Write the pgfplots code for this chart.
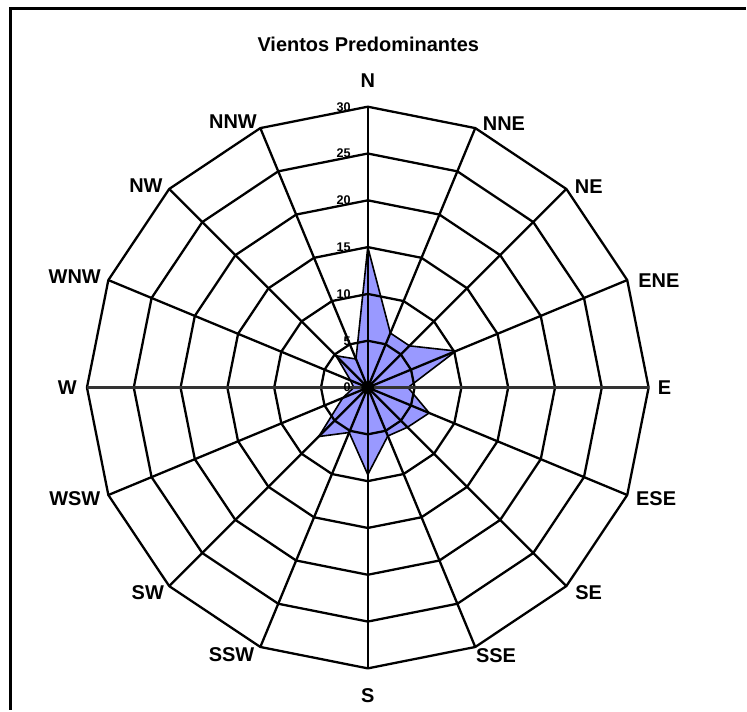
\documentclass[border=0pt]{standalone}
\usepackage{pgfplots}
\pgfplotsset{compat=1.18}
\usepgfplotslibrary{polar}
\usepackage{fontspec}
\setmainfont{Liberation Sans}
\definecolor{windfill}{RGB}{153,153,255}
\pgfplotstableread{
ang r
90 15
67.5 6.3
45 6.3
22.5 10.2
0 4.3
-22.5 7.1
-45 6.0
-67.5 5.6
-90 9.3
-112.5 5.2
-135 7.4
-157.5 2.9
180 1.5
157.5 2.0
135 4.8
112.5 3.3
90 15
}\winddata
\begin{document}
\begin{tikzpicture}
\begin{axis}[
  scale only axis, width=281.4pt, height=281.4pt,
  xmin=-30, xmax=30, ymin=-30, ymax=30,
  hide axis, clip=false,
]
% data polygon
\addplot[fill=windfill, draw=black, line width=0.8pt, data cs=polar] table[x=ang,y=r] {\winddata};
% rings
\pgfplotsinvokeforeach{5,10,15,20,25,30}{
\addplot[black, line width=1.15pt, line join=round, data cs=polar] coordinates {
(90,#1) (67.5,#1) (45,#1) (22.5,#1) (0,#1) (-22.5,#1) (-45,#1) (-67.5,#1)
(-90,#1) (-112.5,#1) (-135,#1) (-157.5,#1) (180,#1) (157.5,#1) (135,#1) (112.5,#1) (90,#1)};
}
% spokes
\addplot[black, line width=1.15pt, data cs=polar] coordinates {(90,30) (270,30)};
\addplot[black, line width=1.15pt, data cs=polar] coordinates {(67.5,30) (247.5,30)};
\addplot[black, line width=1.15pt, data cs=polar] coordinates {(45,30) (225,30)};
\addplot[black, line width=1.15pt, data cs=polar] coordinates {(22.5,30) (202.5,30)};
\addplot[black!80, line width=1.4pt, data cs=polar] coordinates {(0,30) (180,30)};
\addplot[black, line width=1.15pt, data cs=polar] coordinates {(-22.5,30) (157.5,30)};
\addplot[black, line width=1.15pt, data cs=polar] coordinates {(-45,30) (135,30)};
\addplot[black, line width=1.15pt, data cs=polar] coordinates {(-67.5,30) (112.5,30)};
\addplot[only marks, mark=*, mark size=3pt, black] coordinates {(0,0)};
% radial tick labels
\pgfplotsinvokeforeach{0,5,10,15,20,25,30}{
  \node[anchor=east, font=\fontsize{6.3}{7}\selectfont\bfseries, inner sep=0pt] at (axis cs:-1.8,#1) {#1};
}
% direction labels
\tikzset{dl/.style={font=\fontsize{10}{12}\selectfont\bfseries, inner sep=0pt}}
\node[dl] at (axis cs:0,32.8) {N};
\node[dl] at (axis cs:14.55,28.2) {NNE};
\node[dl] at (axis cs:23.6,21.5) {NE};
\node[dl] at (axis cs:31.1,11.4) {ENE};
\node[dl] at (axis cs:31.7,0) {E};
\node[dl] at (axis cs:30.8,-11.9) {ESE};
\node[dl] at (axis cs:23.6,-21.9) {SE};
\node[dl] at (axis cs:13.7,-28.6) {SSE};
\node[dl] at (axis cs:0,-32.9) {S};
\node[dl] at (axis cs:-14.55,-28.5) {SSW};
\node[dl] at (axis cs:-23.5,-21.9) {SW};
\node[dl] at (axis cs:-31.3,-11.9) {WSW};
\node[dl] at (axis cs:-32.1,0) {W};
\node[dl] at (axis cs:-31.3,11.8) {WNW};
\node[dl] at (axis cs:-23.7,21.6) {NW};
\node[dl] at (axis cs:-14.4,28.4) {NNW};
% title
\node[font=\fontsize{10}{12}\selectfont\bfseries, inner sep=0pt] at (axis cs:0.05,36.7) {Vientos Predominantes};
% frame & bounding box
\coordinate (tl) at (axis cs:-39.29,41.4);
\coordinate (br) at (axis cs:40.35,-34.4);
\coordinate (fl) at (axis cs:-38.22,40.54);
\end{axis}
\path (tl) rectangle (br);
\draw[black, line width=1.5pt] (fl |- br) -- (fl) -- (fl -| br);
\end{tikzpicture}
\end{document}
